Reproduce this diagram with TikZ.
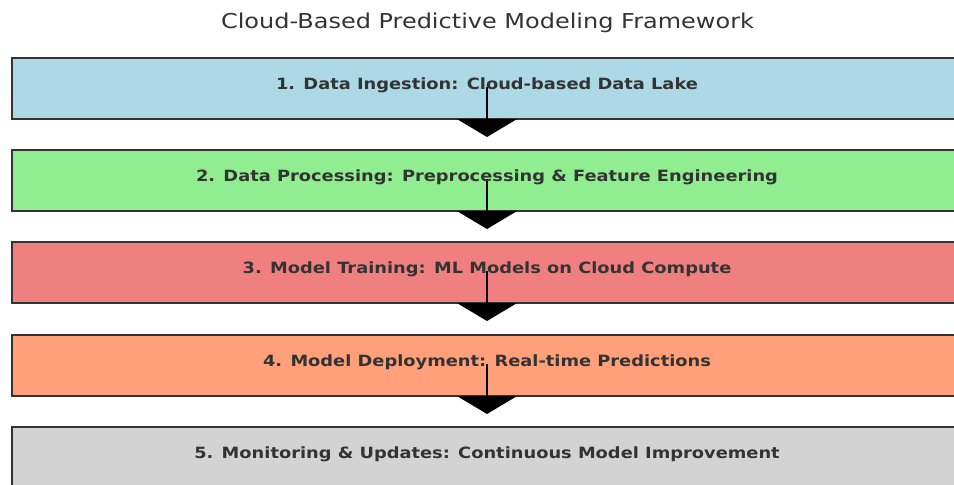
\documentclass[tikz,border=0pt]{standalone}
\usepackage{fontspec}
\usepackage{graphicx}
\setmainfont{DejaVu Sans}
\usetikzlibrary{arrows.meta,calc}

\definecolor{ink}{HTML}{333333}
\definecolor{stageA}{HTML}{ADD8E6}
\definecolor{stageB}{HTML}{90EE90}
\definecolor{stageC}{HTML}{F08080}
\definecolor{stageD}{HTML}{FFA07A}
\definecolor{stageE}{HTML}{D3D3D3}

\newcommand{\widetext}[2]{\scalebox{#1}[1]{#2}}

\tikzset{
  stagebox/.style={draw=black!80, line width=1.5pt, minimum width=950pt,
    minimum height=61pt, inner sep=0pt, outer sep=0pt},
  stagetext/.style={anchor=base, text=ink, font=\bfseries\fontsize{15.5}{18}\selectfont, inner sep=0pt},
  titletext/.style={anchor=base, text=ink, font=\fontsize{20.5}{24}\selectfont, inner sep=0pt},
  flow/.style={line width=2pt, black, -{Triangle[width=60pt,length=18pt]}}
}

\begin{document}
\begin{tikzpicture}[x=1pt,y=-1pt]
  \clip (0,0) rectangle (954,485);
  \fill[white] (0,0) rectangle (954,485);

  \node[titletext] (title) at (487.5,28.3) {\widetext{1.17}{Cloud-Based Predictive Modeling Framework}};

  % stage boxes
  \node[stagebox, fill=stageA] (b1) at (487,88.5) {};
  \node[stagebox, fill=stageB] (b2) at (487,180.5) {};
  \node[stagebox, fill=stageC] (b3) at (487,272.5) {};
  \node[stagebox, fill=stageD] (b4) at (487,365.5) {};
  \node[stagebox, fill=stageE] (b5) at (487,457.5) {};

  % arrow start points and tips
  \foreach \i in {1,...,4} {
    \coordinate (s\i) at ($(b\i.center)+(0,-2)$);
    \coordinate (t\i) at ($(b\i.south)+(0,18)$);
    \draw[flow] (s\i) -- (t\i);
  }

  % stage labels
  \foreach \i/\txt in {
      1/{1. Data Ingestion: Cloud-based Data Lake},
      2/{2. Data Processing: Preprocessing \& Feature Engineering},
      3/{3. Model Training: ML Models on Cloud Compute},
      4/{4. Model Deployment: Real-time Predictions},
      5/{5. Monitoring \& Updates: Continuous Model Improvement}} {
    \node[stagetext] (l\i) at ($(b\i.center)+(0,0.5)$) {\widetext{1.15}{\txt}};
  }
\end{tikzpicture}
\end{document}
